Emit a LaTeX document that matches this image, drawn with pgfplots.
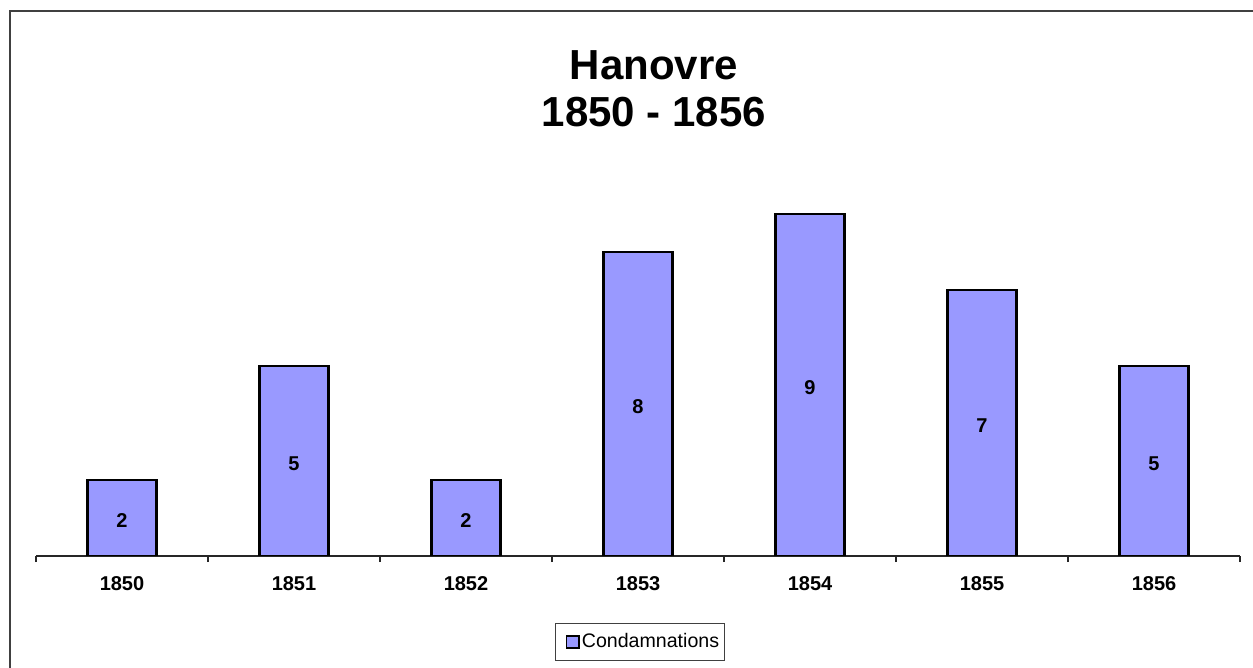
\documentclass[border=0pt]{standalone}
\usepackage{pgfplots}
\pgfplotsset{compat=1.18}
\usepackage{fontspec}
\setmainfont{Liberation Sans}
\definecolor{barblue}{HTML}{9999FF}
\begin{document}
\begin{tikzpicture}
\useasboundingbox (0,0) rectangle (626.5bp,334bp);
\draw[black!75, line width=0.9bp] (5bp,-5bp) -- (5bp,328.5bp) -- (640bp,328.5bp);
\node[anchor=base, inner sep=0pt, font=\bfseries\fontsize{21bp}{25bp}\selectfont] at (327bp,294bp) {Hanovre};
\node[anchor=base, inner sep=0pt, font=\bfseries\fontsize{21bp}{25bp}\selectfont] at (327bp,270.5bp) {1850 - 1856};
\begin{axis}[
  at={(18bp,56bp)}, anchor=south west, scale only axis,
  width=602bp, height=190bp,
  xmin=-0.5, xmax=6.5, ymin=0, ymax=10,
  axis x line*=bottom, axis y line=none,
  x axis line style={black!85, line width=0.55bp},
  xtick={0,1,2,3,4,5,6},
  xticklabels={1850,1851,1852,1853,1854,1855,1856},
  major tick length=0pt,
  extra x ticks={-0.5,0.5,1.5,2.5,3.5,4.5,5.5,6.5},
  extra x tick labels={},
  extra x tick style={major tick length=3bp, tick align=outside, tick style={black!85, line width=0.55bp}},
  xticklabel style={font=\bfseries\fontsize{10bp}{12bp}\selectfont, yshift=-6.5bp},
  /pgf/number format/assume math mode=true,
  ybar, bar width=0.4,
  nodes near coords,
  visualization depends on={rawy \as \rawy},
  every node near coord/.append style={anchor=center, font=\bfseries\fontsize{10bp}{12bp}\selectfont,
     shift={(axis direction cs:0,-\rawy/2)}, yshift=-1.5bp},
  legend style={at={(0.5017,-0.2263)}, anchor=center, draw=black!75, line width=0.5bp,
     font=\fontsize{9.8bp}{11bp}\selectfont, inner xsep=1.5bp, inner ysep=3.2bp,
     nodes={inner xsep=1bp}},
  legend image code/.code={\path[draw=none, fill=none] (0bp,0bp) -- (10bp,0bp);\draw[#1, line width=0.9bp] (3.8bp,-3.1bp) rectangle (10bp,3.1bp);},
]
\addplot[fill=barblue, draw=black, line width=1.2bp] coordinates {(0,2) (1,5) (2,2) (3,8) (4,9) (5,7) (6,5)};
\legend{Condamnations}
\end{axis}
\end{tikzpicture}
\end{document}
